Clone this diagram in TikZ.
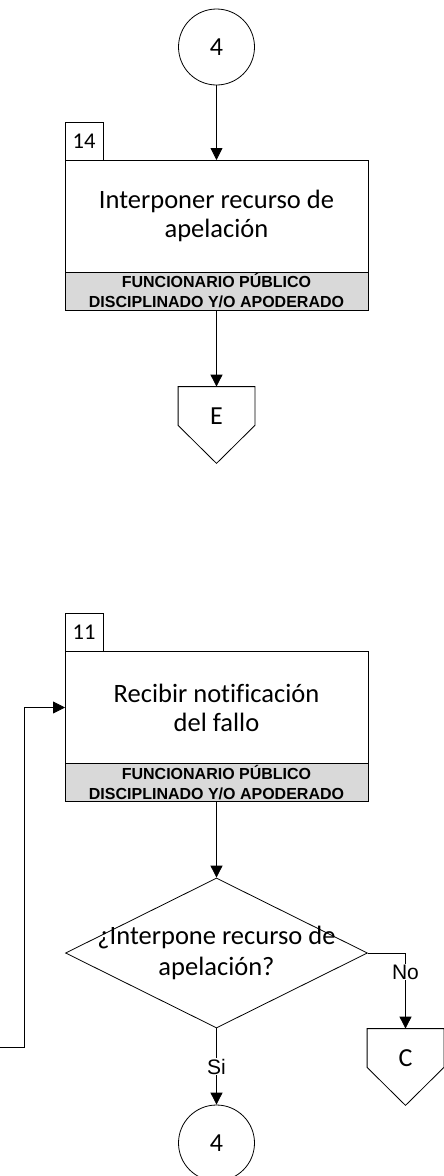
\documentclass[tikz,border=0pt]{standalone}
\usepackage{fontspec}
\setmainfont{Carlito}[Ligatures=NoCommon]
\newfontfamily\arialfont{Liberation Sans}
\usetikzlibrary{positioning}
\usetikzlibrary{shapes.geometric}
\usetikzlibrary{arrows.meta}

\begin{document}
\begin{tikzpicture}[x=1pt, y=-1pt, line width=0.8pt,
    >={Triangle[length=12pt, width=12pt]},
    conn/.style={circle, draw, minimum size=76pt, inner sep=0pt,
        font=\fontsize{26}{30}\selectfont},
    task/.style={rectangle, draw, outer sep=0pt, minimum width=303pt,
        minimum height=112pt, align=center, font=\fontsize{26.5}{29}\selectfont},
    role/.style={rectangle, draw, outer sep=0pt, fill=gray!30, minimum width=303pt,
        minimum height=38pt, inner sep=0pt, align=center,
        font=\arialfont\bfseries\fontsize{16}{20}\selectfont},
    num/.style={rectangle, draw, outer sep=0pt, minimum size=38pt, inner sep=0pt,
        font=\fontsize{22.5}{26}\selectfont},
    page/.style={rectangle, minimum width=76pt, minimum height=76pt, inner sep=0pt,
        text height=17pt, text depth=18pt, font=\fontsize{26}{30}\selectfont},
    ans/.style={fill=white, inner sep=1pt, font=\arialfont\fontsize{21}{24}\selectfont}]
    \useasboundingbox (0,0) rectangle (444,1176);

        % actividad 14
        \node [conn] (top4) at (216.5,47) {4};
        \node [task] (t14) at (216.5,216) {Interponer recurso de\\apelación};
        \node [role, below=0pt of t14] (r14) {FUNCIONARIO PÚBLICO\\DISCIPLINADO Y/O APODERADO};
        \node [num, anchor=south west] (n14) at (t14.north west) {14};
        \node [page] (pE) at (216.5,425) {E};
        \draw (pE.north west) -- (pE.north east) -- ([yshift=38pt]pE.south east)
            -- (pE.south) -- ([yshift=38pt]pE.south west) -- cycle;

        \path (top4) edge[->] (t14);
        \path (r14) edge[->] (pE);

        % actividad 11
        \node [task] (t11) at (216.5,707.5) {Recibir notificación\\del fallo};
        \node [role, below=0pt of t11] (r11) {FUNCIONARIO PÚBLICO\\DISCIPLINADO Y/O APODERADO};
        \node [num, anchor=south west] (n11) at (t11.north west) {11};

        \node [diamond, draw, minimum width=302pt, minimum height=150pt, inner sep=0pt]
            (dec) at (216.5,953) {};
        \node [align=center, font=\fontsize{26.5}{31}\selectfont] (dectxt) at (dec)
            {¿Interpone recurso de\\apelación?};

        \node [page] (pC) at (405.5,1067) {C};
        \draw (pC.north west) -- (pC.north east) -- ([yshift=38pt]pC.south east)
            -- (pC.south) -- ([yshift=38pt]pC.south west) -- cycle;
        \node [conn] (bot4) at (216.5,1143) {4};

        \path (r11) edge[->] (dec);
        \draw [->] (dec.east) -| node [ans, pos=0.625] {No} (pC);
        \draw [->] (dec) -- node [ans] {Si} (bot4);

        \coordinate (loop) at (0,1047);
        \draw [->] (loop) -- ++(24,0) |- (t11);
\end{tikzpicture}
\end{document}
